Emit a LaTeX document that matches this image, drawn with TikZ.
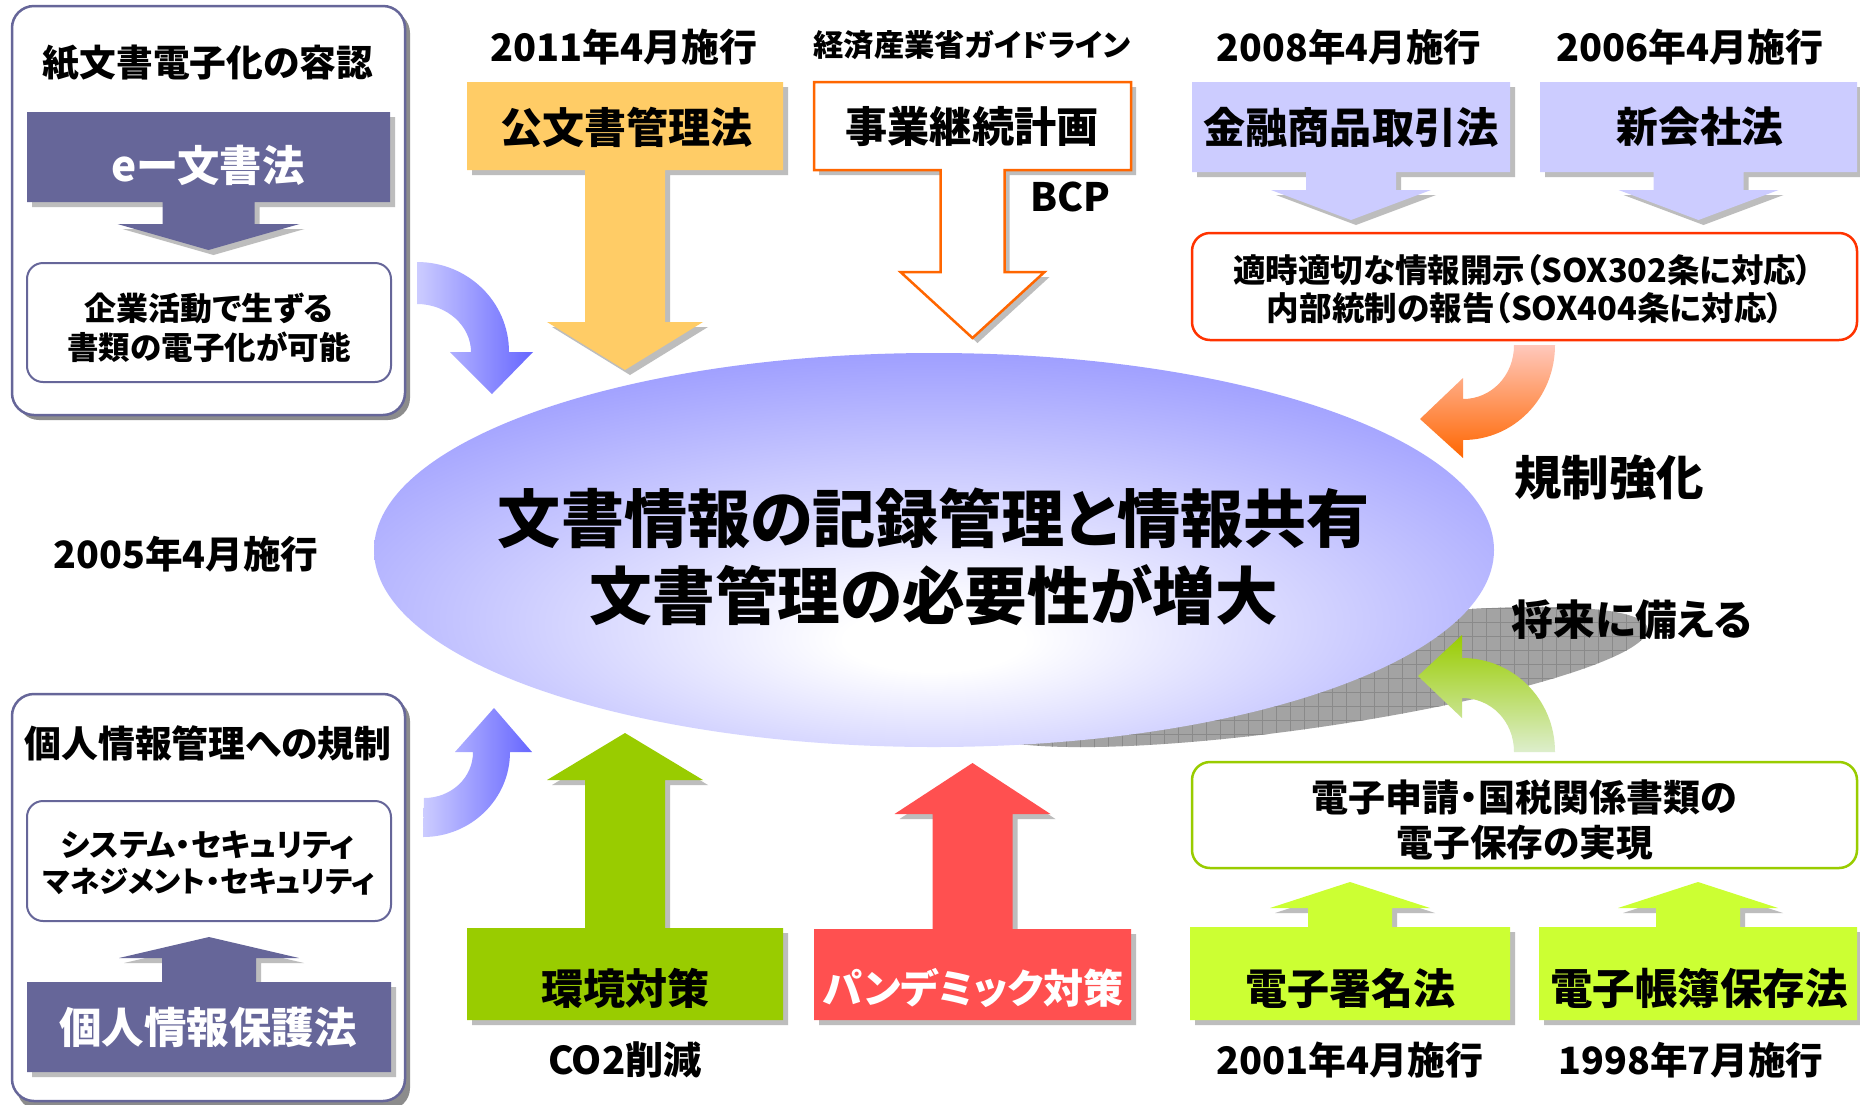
\documentclass[tikz,border=0pt]{standalone}
\usepackage{fontspec}
\setmainfont{Noto Sans CJK JP}[RawFeature={+palt}]
\usepackage{graphicx}
\definecolor{lawpurple}{HTML}{666699}
\definecolor{shgrey}{HTML}{BDBDBD}
\definecolor{outshadow}{HTML}{8C8C8C}
\definecolor{kobun}{HTML}{FFCC66}
\definecolor{bcporange}{HTML}{FF6600}
\definecolor{lav}{HTML}{CCCCFF}
\definecolor{redline}{HTML}{FF3300}
\definecolor{greenline}{HTML}{99CC00}
\definecolor{limefill}{HTML}{CCFF33}
\definecolor{envgreen}{HTML}{99CC00}
\definecolor{pandred}{HTML}{FF5050}
\definecolor{ellblue}{HTML}{9999FF}
\definecolor{bluel}{HTML}{CCCCFF}
\definecolor{blued}{HTML}{6666FF}
\definecolor{orl}{HTML}{FFC8BC}
\definecolor{ord}{HTML}{FF6600}
\definecolor{grl}{HTML}{DDEECC}
\definecolor{grd}{HTML}{99CC00}
\definecolor{ellshadow}{HTML}{A3A3A3}
\definecolor{ellgrid}{HTML}{8A8A8A}
\pgfdeclareradialshading{ellshade}{\pgfpoint{0bp}{-12bp}}{color(0bp)=(white); color(4bp)=(white); color(34bp)=(ellblue); color(80bp)=(ellblue)}
\newcommand\fw[2]{\resizebox{#1pt}{!}{\bfseries #2}}
\newcommand\arrbox[9]{%
  \path[#9] (#1,#3) -- (#2,#3) -- (#2,#4) -- ({(#1+#2)/2+#5},#4) -- ({(#1+#2)/2+#5},#6) -- ({(#1+#2)/2+#7},#6) -- ({(#1+#2)/2},#8) -- ({(#1+#2)/2-#7},#6) -- ({(#1+#2)/2-#5},#6) -- ({(#1+#2)/2-#5},#4) -- (#1,#4) -- cycle;}
\newcommand\sarrbox[9]{%
  \arrbox{#1}{#2}{#3}{#4}{#5}{#6}{#7}{#8}{fill=shgrey,shift={(5,5)}}%
  \arrbox{#1}{#2}{#3}{#4}{#5}{#6}{#7}{#8}{#9}}
\tikzset{
  txt/.style={inner sep=0pt, anchor=center, text=black},
  wtxt/.style={inner sep=0pt, anchor=center, text=white},
  outerbox/.style={draw=lawpurple, line width=2.5pt, fill=white, rounded corners=22pt},
  outershadow/.style={fill=outshadow, rounded corners=22pt},
  innerbox/.style={draw=lawpurple, line width=2pt, fill=white, rounded corners=16pt},
  redbox/.style={draw=redline, line width=2.5pt, fill=white, rounded corners=18pt},
  greenbox/.style={draw=greenline, line width=2.5pt, fill=white, rounded corners=18pt}
}
\begin{document}
\begin{tikzpicture}[x=1pt,y=-1pt]
\useasboundingbox[fill=white] (0,0) rectangle (1860,1104);

% ---------- shadow of the central ellipse ----------
\begin{scope}
  \clip[rotate around={8.2:(1310,677)}] (1310,677) ellipse [x radius=341, y radius=51];
  \fill[ellshadow] (940,580) rectangle (1680,770);
  \foreach \gx in {940,954,...,1680} \draw[ellgrid, line width=0.8pt] (\gx,580) -- (\gx,770);
  \foreach \gy in {580,594,...,770} \draw[ellgrid, line width=0.8pt] (940,\gy) -- (1680,\gy);
\end{scope}

% ---------- central ellipse ----------
\shade[shading=ellshade] (934,550) ellipse [x radius=560, y radius=197];
\node[txt] (c1) at (934,518) {\fw{872}{文書情報の記録管理と情報共有}};
\node[txt] (c2) at (934,595) {\fw{688}{文書管理の必要性が増大}};

% ---------- left top group ----------
\fill[outershadow] (17,11) rectangle (410,420);
\draw[outerbox] (12,6) rectangle (405,415);
\node[txt] (t1) at (208,63) {\fw{330}{紙文書電子化の容認}};
\sarrbox{27}{390}{112}{202}{46}{224}{91}{250}{fill=lawpurple}
\node[wtxt] (edoc) at (208,165) {\fw{193}{eー文書法}};
\draw[innerbox] (27,263) rectangle (391,382);
\node[txt] (k1) at (209,308) {\fw{248}{企業活動で生ずる}};
\node[txt] (k2) at (209,347) {\fw{283}{書類の電子化が可能}};

% ---------- left bottom group ----------
\fill[outershadow] (17,699) rectangle (410,1110);
\draw[outerbox] (12,694) rectangle (405,1101);
\node[txt] (t2) at (208,743) {\fw{367}{個人情報管理への規制}};
\draw[innerbox] (27,801) rectangle (391,921);
\node[txt] (s1) at (208,845) {\fw{293}{システム・セキュリティ}};
\node[txt] (s2) at (209,882) {\fw{332}{マネジメント・セキュリティ}};
\sarrbox{27}{391}{1072}{982}{47}{958}{90}{937}{fill=lawpurple}
\node[wtxt] (pil) at (208,1027) {\fw{297}{個人情報保護法}};

\node[txt] (d2005) at (186,554) {\fw{265}{2005年4月施行}};

% ---------- blue curved arrows ----------
\shade[left color=bluel, right color=blued]
  (417,262) .. controls (468,262) and (509,302) .. (509,352) -- (533,352) -- (492,394) -- (450,352) -- (471,352)
  .. controls (471,326) and (447,304) .. (417,304) -- cycle;
\shade[left color=bluel, right color=blued]
  (423,837) .. controls (471,837) and (510,799) .. (510,752) -- (532,752) -- (494,708) -- (455,752) -- (473,752)
  .. controls (473,778) and (451,798) .. (424,798) -- cycle;

% ---------- top row ----------
\node[txt] (d2011) at (624,47) {\fw{267}{2011年4月施行}};
\node[txt] (meti) at (972,45) {\fw{317}{経済産業省ガイドライン}};
\node[txt] (d2008) at (1349,47) {\fw{264}{2008年4月施行}};
\node[txt] (d2006) at (1690,47) {\fw{267}{2006年4月施行}};

\sarrbox{467}{783}{82}{170}{40}{322}{78}{370}{fill=kobun}
\node[txt] (kobunsho) at (626,127) {\fw{252}{公文書管理法}};
\sarrbox{814}{1131}{82}{170}{32}{272}{72}{338}{fill=white, draw=bcporange, line width=2.5pt}
\node[txt] (bcp) at (972,127) {\fw{253}{事業継続計画}};
\node[txt] (bcpl) at (1070,197) {\fw{80}{BCP}};
\sarrbox{1192}{1510}{82}{172}{45}{190}{80}{220}{fill=lav}
\node[txt] (kinyu) at (1351,127) {\fw{295}{金融商品取引法}};
\sarrbox{1540}{1857}{82}{172}{45}{190}{80}{220}{fill=lav}
\node[txt] (kaisha) at (1700,127) {\fw{167}{新会社法}};

\draw[redbox] (1192,233) rectangle (1857,340);
\node[txt] (sox1) at (1523,270) {\fw{579}{適時適切な情報開示（SOX302条に対応）}};
\node[txt] (sox2) at (1525,308) {\fw{516}{内部統制の報告（SOX404条に対応）}};

% orange curved arrow
\shade[top color=orl, bottom color=ord]
  (1514,345) -- (1555,345) .. controls (1555,398) and (1514,440) .. (1463,440) -- (1463,458) -- (1420,419) -- (1463,378) -- (1463,399)
  .. controls (1491,399) and (1514,376) .. (1514,345) -- cycle;
\node[txt] (kisei) at (1609,478) {\fw{190}{規制強化}};

% ---------- right bottom ----------
\node[txt] (shorai) at (1632,620) {\fw{240}{将来に備える}};
\shade[top color=grd, bottom color=grl]
  (1514,752) -- (1555,752) .. controls (1555,699) and (1513,658) .. (1462,658) -- (1462,635) -- (1418,676) -- (1462,718) -- (1462,698)
  .. controls (1491,698) and (1514,721) .. (1514,752) -- cycle;

\draw[greenbox] (1192,762) rectangle (1857,868);
\node[txt] (den1) at (1524,797) {\fw{425}{電子申請・国税関係書類の}};
\node[txt] (den2) at (1525,843) {\fw{256}{電子保存の実現}};

\sarrbox{1190}{1510}{1020}{927}{42}{908}{80}{882}{fill=limefill}
\node[txt] (shomei) at (1350,988) {\fw{210}{電子署名法}};
\sarrbox{1539}{1857}{1020}{927}{42}{908}{80}{882}{fill=limefill}
\node[txt] (chobo) at (1699,988) {\fw{297}{電子帳簿保存法}};
\node[txt] (d2001) at (1350,1060) {\fw{267}{2001年4月施行}};
\node[txt] (d1998) at (1691,1060) {\fw{265}{1998年7月施行}};

% ---------- bottom middle ----------
\sarrbox{467}{783}{1020}{928}{40}{780}{78}{733}{fill=envgreen}
\node[txt] (env) at (625,988) {\fw{168}{環境対策}};
\node[txt] (co2) at (625,1060) {\fw{154}{CO2削減}};
\sarrbox{814}{1131}{1020}{929}{40}{814}{78}{763}{fill=pandred}
\node[wtxt] (pand) at (973,988) {\fw{301}{パンデミック対策}};
\end{tikzpicture}
\end{document}
